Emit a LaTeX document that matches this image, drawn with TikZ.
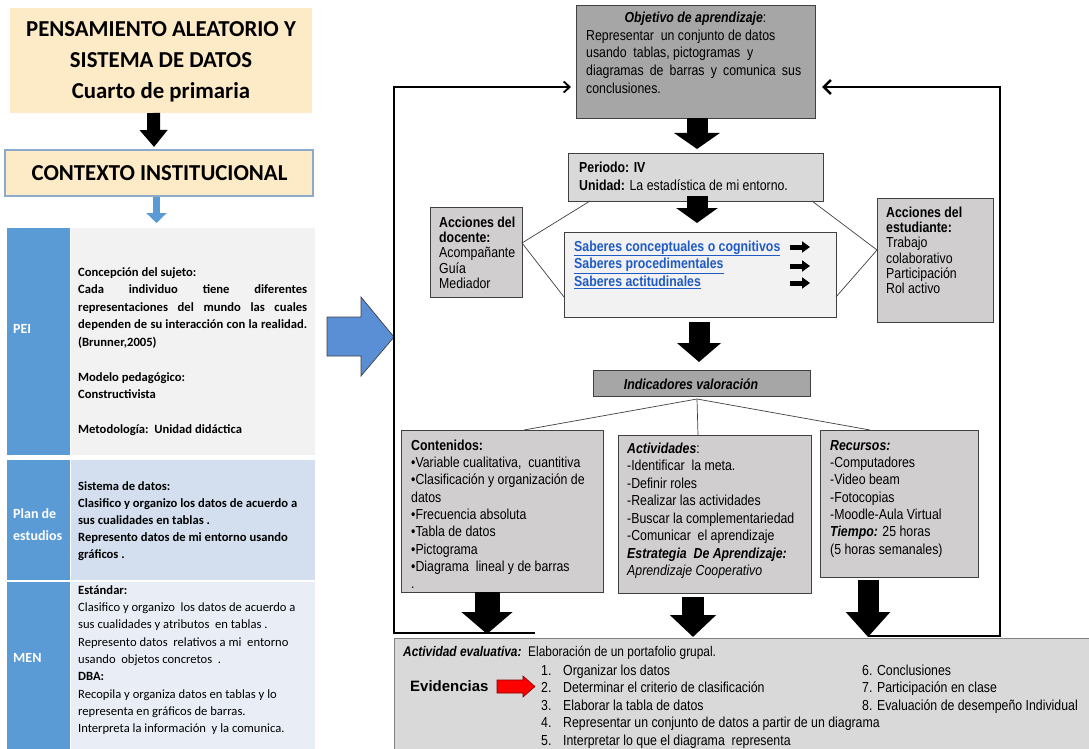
\documentclass[tikz,border=0pt]{standalone}
\usepackage{fontspec}
\setmainfont{Carlito}
\newfontfamily\nar{Liberation Sans}[FakeStretch=0.85]
\newfontfamily\arl{Liberation Sans}
\usetikzlibrary{arrows.meta,calc}
\definecolor{yel}{HTML}{FDEBC7}
\definecolor{ctxb}{HTML}{8EAACB}
\definecolor{blu}{HTML}{5B9BD5}
\definecolor{bigblu}{HTML}{5A8FD6}
\definecolor{peic}{HTML}{F2F2F2}
\definecolor{planc}{HTML}{D3DFEE}
\definecolor{menc}{HTML}{E9EEF6}
\definecolor{gA}{HTML}{A6A6A6}
\definecolor{gD}{HTML}{D9D9D9}
\definecolor{gC}{HTML}{D0CECE}
\definecolor{gF}{HTML}{F2F2F2}
\definecolor{linkc}{HTML}{1F5BC6}
\definecolor{bd}{HTML}{404040}
\begin{document}
\begin{tikzpicture}[x=1pt,y=-1pt,
  box/.style={draw=bd, line width=0.8pt, inner sep=0pt, outer sep=0pt, anchor=north west},
  cell/.style={inner sep=0pt, outer sep=0pt, anchor=north west},
  lt/.style={anchor=north west, inner sep=0pt, align=left, font=\fontsize{12.6}{17.5}\selectfont},
  lab/.style={inner sep=0pt, text=white, font=\bfseries\fontsize{14}{22}\selectfont, align=left},
  rt/.style={anchor=north west, inner sep=0pt, align=left, font=\nar\fontsize{14.5}{17.5}\selectfont},
  rtt/.style={anchor=north west, inner sep=0pt, align=left, font=\nar\fontsize{14.5}{15.3}\selectfont},
  fat/.style={line width=#1, draw=black},
  thinl/.style={draw=bd, line width=0.7pt}
]
\fill[white] (0,0) rectangle (1089,749);
\useasboundingbox (0,0) rectangle (1089,749);

% ---------------- left panel ----------------
\node[cell, fill=yel, minimum width=302pt, minimum height=105pt] (title) at (10,8) {};
\node[anchor=north, inner sep=0pt, align=center, font=\bfseries\fontsize{22.8}{31}\selectfont] (titlet) at (161,14.8)
  {\strut PENSAMIENTO ALEATORIO Y\\SISTEMA DE DATOS\\Cuarto de primaria};
\node[cell, fill=yel, draw=ctxb, line width=1.2pt, minimum width=308pt, minimum height=46pt] (ctx) at (5,150) {};
\node[anchor=base, inner sep=0pt, font=\bfseries\fontsize{22.8}{26}\selectfont] (ctxt) at (159.5,180) {CONTEXTO INSTITUCIONAL};

\draw[fat=13pt, -{Triangle[width=27pt,length=17pt]}] ($(title.south)+(-7.5,0)$) -- ($(ctx.north)+(-5,-3)$);

% table
\node[cell, fill=blu, minimum width=63pt, minimum height=227pt] (peil) at (7,228) {};
\node[cell, fill=peic, minimum width=244pt, minimum height=227pt] (peir) at (71,228) {};
\node[cell, fill=blu, minimum width=63pt, minimum height=120pt] (planl) at (7,460) {};
\node[cell, fill=planc, minimum width=244pt, minimum height=120pt] (planr) at (71,460) {};
\node[cell, fill=blu, minimum width=63pt, minimum height=170pt] (menl) at (7,582) {};
\node[cell, fill=menc, minimum width=244pt, minimum height=170pt] (menr) at (71,582) {};

\draw[line width=7pt, draw=blu, -{Triangle[width=20pt,length=10pt]}] ($(ctx.south)+(-2.5,1)$) -- ($(peir.north west)+(85.5,-5)$);

\node[lab, anchor=base west] (peit) at (13,333) {PEI};
\node[lab, anchor=north west] (plant) at (13,502.6) {\strut Plan de\\estudios};
\node[lab, anchor=base west] (ment) at (13,662) {MEN};

\node[lt, font=\bfseries\fontsize{12.6}{17.5}\selectfont] (peitx) at (78,263.75) {\strut Concepción del sujeto:\\
\makebox[229pt][s]{Cada individuo tiene diferentes}\\
\makebox[229pt][s]{representaciones del mundo las cuales}\\
\makebox[229pt][s]{dependen de su interacción con la realidad.}\\
(Brunner,2005)\\[17.5pt]
Modelo pedagógico:\\
Constructivista\\[17.5pt]
Metodología:\ \ Unidad didáctica};

\node[lt, font=\bfseries\fontsize{12.6}{17.2}\selectfont] (plantx) at (78,477.8) {\strut Sistema de datos:\\
Clasifico y organizo los datos de acuerdo a\\
sus cualidades en tablas .\\
Represento datos de mi entorno usando\\
gráficos .};

\node[lt, font=\fontsize{12.6}{17.3}\selectfont] (mentx) at (78,581.9) {\strut\textbf{Estándar:}\\
Clasifico y organizo\ \ los datos de acuerdo a\\
sus cualidades y atributos\ \ en tablas .\\
Represento datos\ \ relativos a mi\ \ entorno\\
usando\ \ objetos concretos\ \ .\\
\textbf{DBA:}\\
Recopila y organiza datos en tablas y lo\\
representa en gráficos de barras.\\
Interpreta la información\ \ y la comunica.};

% big blue arrow
\draw[fill=bigblu, draw=bd, line width=0.7pt] (327,317) -- (361,317) -- (361,297) -- (394,337) -- (361,376) -- (361,356) -- (327,356) -- cycle;

% ---------------- right panel ----------------
\node[box, fill=gA, minimum width=239pt, minimum height=113pt] (obj) at (576,5) {};
\node[anchor=base, inner sep=0pt, font=\nar\fontsize{14.5}{17.5}\selectfont] (objt) at (695.5,23) {\textbf{\textit{Objetivo de aprendizaje}}:};
\node[rt, font=\nar\fontsize{14.5}{17.6}\selectfont] (objtx) at (586,27.7) {\strut Representar\ \ un conjunto de datos\\
usando\ \ tablas, pictogramas\ \ y\\
\makebox[215pt][s]{diagramas de barras y comunica sus}\\
conclusiones.};

\node[box, fill=gD, minimum width=255pt, minimum height=48pt] (per) at (568,153) {};
\node[rt, font=\nar\fontsize{14.5}{18}\selectfont] (pertx) at (579,159.4) {\strut\textbf{Periodo: IV}\\\textbf{Unidad:} La estadística de mi entorno.};

\node[box, fill=gF, minimum width=272pt, minimum height=85pt] (sab) at (564,232) {};
\node[rt, text=linkc, font=\nar\bfseries\fontsize{14.5}{17.5}\selectfont] (sabtx) at (574,238.75) {\strut\underline{Saberes conceptuales o cognitivos}\\
\underline{Saberes procedimentales}\\
\underline{Saberes actitudinales}};
\coordinate (s1a) at (790,247); \coordinate (s1b) at (810,247);
\coordinate (s2a) at (790,266); \coordinate (s2b) at (810,266);
\coordinate (s3a) at (790,283); \coordinate (s3b) at (810,283);
\foreach \a/\b in {s1a/s1b,s2a/s2b,s3a/s3b}
  \draw[line width=5pt, -{Triangle[width=11pt,length=8pt]}] (\a) -- (\b);

\node[box, fill=gC, minimum width=92pt, minimum height=90pt] (doc) at (430,207) {};
\node[rtt] (doctx) at (439,216.3) {\strut\textbf{Acciones del}\\\textbf{docente:}\\Acompañante\\Guía\\Mediador};

\node[box, fill=gC, minimum width=116pt, minimum height=124pt] (est) at (877,198) {};
\node[rtt] (esttx) at (886,206.3) {\strut\textbf{Acciones del}\\\textbf{estudiante:}\\Trabajo\\colaborativo\\Participación\\Rol activo};

\draw[thinl] ($(per.south west)+(22,0)$) -- ($(doc.north east)+(0,36)$) -- ($(sab.south west)+(0,-20)$);
\draw[thinl] ($(per.south east)+(-11,0)$) -- ($(est.north west)+(0,52)$) -- ($(sab.south east)+(0,-20)$);

\node[box, fill=gA, minimum width=217pt, minimum height=26pt] (ind) at (593,370) {};
\node[anchor=base, inner sep=0pt, font=\nar\bfseries\itshape\fontsize{14.5}{17.5}\selectfont] (indt) at (691,389) {Indicadores valoración};

\draw[fat=21pt, -{Triangle[width=45pt,length=16pt]}] ($(obj.south)+(1.5,0)$) -- ($(per.north)+(1.5,-4)$);
\draw[fat=21pt, -{Triangle[width=41pt,length=15pt]}] ($(per.south)+(1.5,-5)$) -- ($(sab.north)+(-3,-9)$);
\draw[fat=21pt, -{Triangle[width=43pt,length=19pt]}] ($(sab.south)+(-1,5)$) -- ($(ind.north)+(-2.5,-8)$);

\node[box, fill=gC, minimum width=202pt, minimum height=162pt] (cont) at (401,430) {};
\node[rt, font=\nar\fontsize{14.5}{17.3}\selectfont] (conttx) at (411,437.9) {\strut\textbf{Contenidos:}\\
•Variable cualitativa,\ \ cuantitiva\\
•Clasificación y organización de\\
datos\\
•Frecuencia absoluta\\
•Tabla de datos\\
•Pictograma\\
•Diagrama\ \ lineal y de barras\\
.};

\node[box, fill=gC, minimum width=193pt, minimum height=158pt] (act) at (618,435) {};
\node[rt] (acttx) at (627,440.75) {\strut\textbf{\textit{Actividades}}:\\
-Identificar\ \ la meta.\\
-Definir roles\\
-Realizar las actividades\\
-Buscar la complementariedad\\
-Comunicar\ \ el aprendizaje\\
\textbf{\textit{Estrategia\ \ De Aprendizaje:}}\\
\textit{Aprendizaje Cooperativo}};

\node[box, fill=gC, minimum width=158pt, minimum height=147pt] (rec) at (820,430) {};
\node[rt, font=\nar\fontsize{14.5}{17.3}\selectfont] (rectx) at (830,437.9) {\strut\textbf{\textit{Recursos:}}\\
-Computadores\\
-Video beam\\
-Fotocopias\\
-Moodle-Aula Virtual\\
\textbf{\textit{Tiempo:}} 25 horas\\
(5 horas semanales)};

\coordinate (apex) at ($(ind.south)+(-4.5,3)$);
\draw[thinl] (apex) -- ($(cont.north west)+(123,0)$);
\draw[thinl] (apex) -- ($(act.north west)+(80,0)$);
\draw[thinl] (apex) -- ($(rec.north west)+(50,0)$);

% evaluation box
\node[box, fill=gD, draw=gray, minimum width=705pt, minimum height=120pt] (eva) at (394,638) {};

% feedback frame
\coordinate (fl) at (535,633);
\coordinate (flc1) at (394,633);
\coordinate (flc2) at (394,87);
\draw[line width=1.8pt, -{Straight Barb[length=6pt,width=11pt]}] (fl) -- (flc1) -- (flc2) -- ($(obj.north west)+(-5,82)$);
\coordinate (fr) at (868,636);
\coordinate (frc1) at (1000,636);
\coordinate (frc2) at (1000,87);
\draw[line width=2.6pt, -{Straight Barb[length=7pt,width=14pt]}] (fr) -- (frc1) -- (frc2) -- ($(obj.north east)+(7,82)$);

\draw[fat=25pt, -{Triangle[width=50pt,length=22pt]}] ($(cont.south)+(-15,0)$) -- ($(eva.north west)+(93,-4)$);
\draw[fat=22pt, -{Triangle[width=45pt,length=22pt]}] ($(act.south)+(-21.5,4)$) -- ($(eva.north west)+(299,-1)$);
\draw[fat=21pt, -{Triangle[width=43pt,length=25pt]}] ($(rec.south)+(-31,3)$) -- ($(eva.north west)+(474,-1)$);

\node[anchor=base west, inner sep=0pt, font=\nar\fontsize{14}{17.5}\selectfont] (evat) at (403,656) {\textbf{\textit{Actividad evaluativa:}}\ \ Elaboración de un portafolio grupal.};
\node[anchor=base west, inner sep=0pt, font=\arl\bfseries\fontsize{15}{18}\selectfont] (evid) at (410,691) {Evidencias};
\draw[fill=red, draw=red!50!black, line width=0.6pt] (497,680) -- (523,680) -- (523,676) -- (535,686.5) -- (523,697) -- (523,693) -- (497,693) -- cycle;
\node[rt] (evnum) at (541,662.75) {\strut 1.\\2.\\3.\\4.\\5.};
\node[rt] (evtx) at (563,662.75) {\strut Organizar los datos\\
Determinar el criterio de clasificación\\
Elaborar la tabla de datos\\
Representar un conjunto de datos a partir de un diagrama\\
Interpretar lo que el diagrama\ \ representa};
\node[rt] (evtx2) at (862,662.75) {\strut 6. Conclusiones\\
7. Participación en clase\\
8. Evaluación de desempeño Individual};
\end{tikzpicture}
\end{document}
